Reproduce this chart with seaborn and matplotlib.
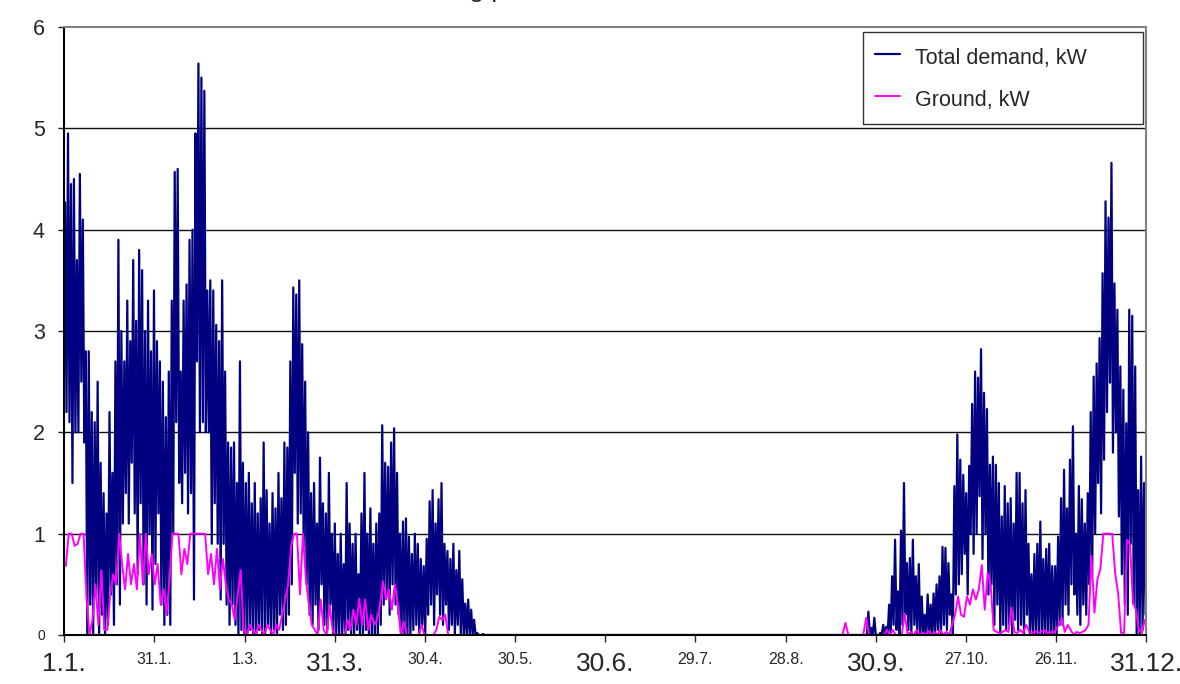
import numpy as np
import pandas as pd
import matplotlib
matplotlib.use("Agg")
import matplotlib.pyplot as plt
import seaborn as sns

# daily peak / trough of total demand and daily ground value
N_DAYS = 365
SPRING_START = 0
AUTUMN_START = 262

spring_hi = [
    4.27, 4.95, 4.45, 4.5, 3.7, 4.55, 4.1, 2.8, 2.8, 2.2,
    2.1, 2.5, 1.7, 1.4, 1.2, 2.2, 1.6, 2.7, 3.9, 3.0,
    2.7, 3.3, 2.9, 3.7, 3.1, 3.8, 3.6, 3.0, 3.3, 2.8,
    3.4, 2.9, 2.7, 2.5, 2.15, 2.6, 3.3, 4.57, 4.6, 2.6,
    3.3, 3.46, 3.9, 4.0, 4.95, 5.64, 5.5, 5.37, 3.4, 3.5,
    3.4, 3.06, 2.9, 3.5, 2.6, 1.9, 1.85, 1.9, 1.5, 2.7,
    1.7, 1.5, 1.6, 1.3, 1.5, 1.2, 1.35, 1.9, 1.43, 1.1,
    1.4, 1.25, 1.6, 1.35, 1.9, 1.85, 2.7, 3.43, 3.36, 3.5,
    2.87, 2.5, 2.0, 1.4, 1.5, 1.1, 1.75, 1.3, 1.2, 1.6,
    1.0, 1.1, 0.8, 1.0, 0.7, 1.5, 1.1, 0.9, 1.0, 0.6,
    1.2, 1.6, 1.0, 1.25, 0.9, 1.1, 1.2, 2.07, 1.7, 1.66,
    1.9, 2.04, 1.6, 1.0, 1.12, 1.15, 0.97, 0.8, 1.0, 0.9,
    0.75, 0.68, 0.95, 1.32, 1.43, 1.1, 1.34, 1.5, 0.9, 0.83,
    0.75, 0.9, 0.64, 0.83, 0.55, 0.31, 0.35, 0.25, 0.15, 0.02,
    0.0, 0.01,
]
spring_lo = [
    2.2, 2.1, 1.5, 2.0, 2.0, 2.5, 1.9, 0.0, 0.3, 0.0,
    0.4, 0.0, 0.2, 0.0, 0.1, 0.4, 0.1, 0.5, 0.3, 1.1,
    1.4, 1.1, 1.7, 1.2, 0.6, 1.3, 0.5, 0.3, 1.0, 0.25,
    0.7, 1.2, 0.3, 0.1, 0.2, 0.1, 1.0, 2.1, 1.5, 1.3,
    1.6, 1.2, 1.4, 0.35, 2.7, 2.0, 2.1, 2.0, 2.0, 0.9,
    1.3, 0.9, 0.35, 0.9, 0.3, 0.1, 0.3, 0.1, 0.0, 0.05,
    0.0, 0.0, 0.05, 0.0, 0.0, 0.05, 0.0, 0.0, 0.1, 0.0,
    0.05, 0.0, 0.2, 0.05, 0.1, 0.2, 0.5, 1.6, 1.1, 1.2,
    0.87, 0.5, 0.2, 0.1, 0.3, 0.05, 0.5, 0.1, 0.05, 0.3,
    0.0, 0.0, 0.0, 0.0, 0.0, 0.05, 0.0, 0.0, 0.05, 0.0,
    0.0, 0.05, 0.0, 0.0, 0.0, 0.0, 0.1, 0.3, 0.4, 0.2,
    0.5, 0.3, 0.2, 0.0, 0.0, 0.0, 0.0, 0.05, 0.1, 0.0,
    0.1, 0.0, 0.2, 0.3, 0.1, 0.4, 0.2, 0.1, 0.3, 0.05,
    0.1, 0.0, 0.1, 0.0, 0.0, 0.0, 0.0, 0.0, 0.0, 0.0,
    0.0, 0.0,
]
spring_ground = [
    0.68, 1.0, 1.0, 0.88, 0.9, 1.0, 1.0, 0.36, 0.0, 0.15,
    0.5, 0.1, 0.64, 0.05, 0.05, 0.4, 0.6, 0.5, 1.0, 0.7,
    0.45, 0.8, 0.5, 0.7, 0.45, 1.0, 0.5, 1.0, 0.6, 0.8,
    0.5, 0.7, 0.3, 0.45, 0.2, 0.55, 1.0, 1.0, 1.0, 0.6,
    0.85, 0.7, 1.0, 1.0, 1.0, 1.0, 1.0, 1.0, 0.6, 0.8,
    0.5, 0.85, 0.45, 0.75, 0.5, 0.35, 0.3, 0.15, 0.4, 0.64,
    0.05, 0.0, 0.1, 0.05, 0.0, 0.1, 0.05, 0.0, 0.1, 0.05,
    0.0, 0.1, 0.05, 0.2, 0.35, 0.5, 0.87, 1.0, 1.0, 0.4,
    1.0, 0.55, 0.3, 0.1, 0.05, 0.0, 0.35, 0.05, 0.0, 0.3,
    0.05, 0.0, 0.0, 0.0, 0.0, 0.15, 0.05, 0.25, 0.1, 0.36,
    0.1, 0.35, 0.05, 0.2, 0.1, 0.15, 0.3, 0.53, 0.35, 0.45,
    0.25, 0.5, 0.3, 0.0, 0.13, 0.0, 0.0, 0.0, 0.0, 0.0,
    0.1, 0.0, 0.0, 0.0, 0.0, 0.05, 0.18, 0.15, 0.2, 0.0,
    0.0, 0.0, 0.0, 0.0, 0.0, 0.0, 0.0, 0.0, 0.0, 0.0,
    0.0, 0.0,
]

autumn_hi = [
    0.0, 0.0, 0.0, 0.0, 0.0, 0.0, 0.0, 0.0, 0.0, 0.23,
    0.07, 0.17, 0.0, 0.02, 0.1, 0.08, 0.3, 0.58, 0.94, 0.43,
    1.03, 1.5, 0.71, 0.76, 0.94, 0.58, 0.7, 0.38, 0.2, 0.4,
    0.3, 0.41, 0.5, 0.58, 0.87, 0.86, 0.71, 0.4, 1.47, 1.98,
    1.73, 1.58, 1.4, 1.67, 2.28, 2.6, 2.54, 2.82, 2.39, 2.23,
    1.68, 1.76, 1.68, 1.5, 1.17, 1.47, 1.3, 1.35, 1.1, 1.6,
    1.6, 1.3, 1.43, 0.9, 0.6, 0.8, 0.9, 1.12, 0.75, 0.85,
    0.9, 0.68, 0.68, 0.97, 1.35, 1.63, 1.25, 1.73, 2.06, 1.0,
    1.47, 1.34, 1.1, 1.4, 2.2, 2.55, 2.68, 2.93, 3.57, 4.28,
    4.12, 4.66, 3.47, 3.21, 2.65, 2.42, 2.09, 3.21, 3.15, 2.65,
    1.43, 1.76, 1.5,
]
autumn_lo = [
    0.0, 0.0, 0.0, 0.0, 0.0, 0.0, 0.0, 0.0, 0.0, 0.0,
    0.0, 0.0, 0.0, 0.0, 0.0, 0.0, 0.0, 0.1, 0.05, 0.0,
    0.1, 0.2, 0.05, 0.0, 0.1, 0.0, 0.0, 0.0, 0.0, 0.0,
    0.0, 0.0, 0.05, 0.0, 0.1, 0.05, 0.2, 0.0, 0.4, 0.5,
    0.6, 0.8, 0.4, 1.0, 0.8, 1.0, 1.37, 0.75, 1.0, 0.4,
    0.5, 0.1, 0.3, 0.0, 0.1, 0.05, 0.1, 0.0, 0.15, 0.05,
    0.1, 0.0, 0.2, 0.0, 0.0, 0.0, 0.0, 0.0, 0.0, 0.0,
    0.0, 0.0, 0.0, 0.1, 0.1, 0.3, 0.2, 0.5, 0.4, 0.2,
    0.1, 0.3, 0.2, 0.5, 0.6, 1.0, 1.5, 1.2, 1.73, 2.2,
    2.49, 1.8, 2.0, 1.17, 0.6, 0.3, 0.2, 0.9, 0.3, 0.0,
    0.0, 0.05, 0.2,
]
autumn_ground = [
    0.0, 0.12, 0.0, 0.0, 0.0, 0.0, 0.0, 0.0, 0.17, 0.0,
    0.0, 0.0, 0.0, 0.0, 0.0, 0.05, 0.0, 0.05, 0.0, 0.0,
    0.0, 0.21, 0.0, 0.03, 0.0, 0.05, 0.0, 0.02, 0.0, 0.04,
    0.0, 0.03, 0.0, 0.05, 0.0, 0.03, 0.0, 0.1, 0.2, 0.38,
    0.2, 0.18, 0.38, 0.3, 0.45, 0.35, 0.45, 0.69, 0.25, 0.61,
    0.5, 0.05, 0.03, 0.02, 0.03, 0.05, 0.03, 0.27, 0.03, 0.02,
    0.05, 0.02, 0.1, 0.03, 0.02, 0.04, 0.02, 0.03, 0.05, 0.02,
    0.03, 0.02, 0.05, 0.1, 0.17, 0.03, 0.1, 0.05, 0.0, 0.03,
    0.02, 0.03, 0.05, 0.1, 0.78, 0.22, 0.55, 0.65, 1.0, 1.0,
    1.0, 1.0, 0.61, 0.41, 0.02, 0.02, 0.94, 0.9, 0.32, 0.25,
    0.05, 0.02, 0.15,
]

tick_labels = ["1.1.", "31.1.", "1.3.", "31.3.", "30.4.", "30.5.", "30.6.",
               "29.7.", "28.8.", "30.9.", "27.10.", "26.11.", "31.12."]

# whole year, summer days stay at zero
hi = np.zeros(N_DAYS)
lo = np.zeros(N_DAYS)
gr = np.zeros(N_DAYS)
for arr, s, a in [(hi, spring_hi, autumn_hi), (lo, spring_lo, autumn_lo),
                  (gr, spring_ground, autumn_ground)]:
    arr[SPRING_START:SPRING_START + len(s)] = s
    arr[AUTUMN_START:AUTUMN_START + len(a)] = a

days = np.arange(N_DAYS)
demand = pd.DataFrame({
    "day": np.column_stack([days + 0.25, days + 0.75]).ravel(),
    "kW": np.column_stack([hi, lo]).ravel(),
})
ground = pd.DataFrame({"day": days + 0.5, "kW": gr})

sns.set_style("white")
plt.rcParams["font.family"] = ["Liberation Sans", "DejaVu Sans"]

fig = plt.figure(figsize=(11.8, 6.84), dpi=100)
ax = fig.add_axes([64.3 / 1180, 49 / 684, 1082 / 1180, 608 / 684])

sns.lineplot(data=demand, x="day", y="kW", ax=ax, color="#000080", lw=1.6,
             sort=False, estimator=None, label="Total demand, kW")
sns.lineplot(data=ground, x="day", y="kW", ax=ax, color="#ff00ff", lw=1.4,
             sort=False, estimator=None, label="Ground, kW")

ax.set_xlim(0, N_DAYS)
ax.set_ylim(0, 6)
for yv in range(1, 6):
    ax.axhline(yv, color="#111111", lw=1, zorder=0)

ax.set_yticks(range(7))
ax.set_yticklabels([str(v) for v in range(7)])
for i, t in enumerate(ax.get_yticklabels()):
    t.set_fontsize(10 if i == 0 else 15.5)
ax.tick_params(axis="y", length=4, width=1, pad=10, direction="out", left=True)

ax.set_xticks(np.linspace(0, N_DAYS, len(tick_labels)))
ax.set_xticklabels(tick_labels)
for i, t in enumerate(ax.get_xticklabels()):
    t.set_fontsize(19 if i % 3 == 0 else 11.5)
ax.tick_params(axis="x", length=5, width=1, pad=7, direction="out", bottom=True)

ax.set_xlabel("")
ax.set_ylabel("")
for side in ["left", "bottom"]:
    ax.spines[side].set_color("black")
    ax.spines[side].set_linewidth(1.5)
for side in ["top", "right"]:
    ax.spines[side].set_color("#808080")
    ax.spines[side].set_linewidth(1.5)

leg = ax.legend(loc="upper left",
                bbox_to_anchor=(863 / 1180, 1 - 32 / 684 - 0.01, 280 / 1180, 0.01),
                bbox_transform=fig.transFigure, mode="expand", borderaxespad=0,
                fontsize=15.5, handlelength=1.15, handletextpad=0.7, handleheight=1.5,
                labelspacing=0.75, borderpad=0.55, frameon=True, fancybox=False)
leg.get_frame().set_edgecolor("black")
leg.get_frame().set_linewidth(1)

# title sits above the canvas in the source, only the descenders show
fig.text(478 / 1180, 1 + 3 / 684, "Heating power", ha="center", va="baseline", fontsize=19)

fig.savefig("out.png", dpi=100)
